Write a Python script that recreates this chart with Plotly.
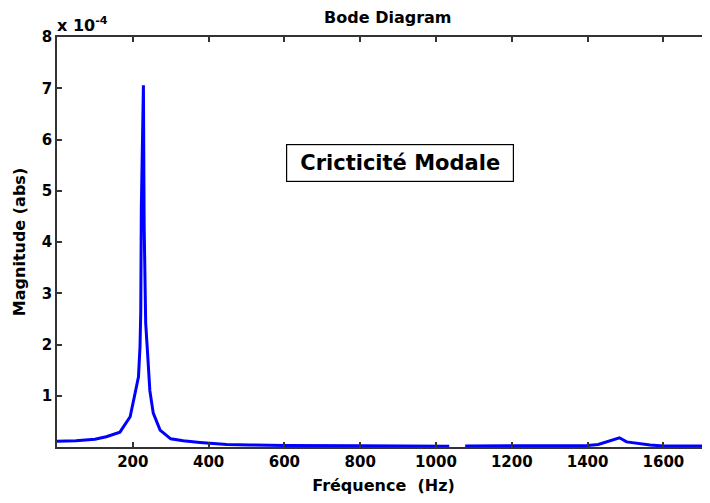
import plotly.graph_objects as go

# Frequency (Hz) and magnitude (in units of 1e-4, abs)
freq_hz = [0, 50, 100, 130, 166, 193, 206, 215, 219, 221, 222.5, 228, 230, 234, 239,
           245, 254, 272, 300, 333, 377, 448, 509, 600, 800, 1000, 1035, None,
           1077, 1200, 1400, 1428, 1459, 1484, 1503, 1530, 1565, 1600, 1725]
magnitude_e4 = [0.11, 0.12, 0.15, 0.2, 0.29, 0.59, 1.05, 1.37, 1.95, 2.64, 4.66, 7.06, 4.3, 2.42, 1.83,
                1.1, 0.66, 0.33, 0.16, 0.12, 0.09, 0.05, 0.04, 0.03, 0.025, 0.02, 0.015, None,
                0.02, 0.02, 0.03, 0.05, 0.12, 0.18, 0.1, 0.07, 0.04, 0.02, 0.02]

x_ticks = [200, 400, 600, 800, 1000, 1200, 1400, 1600]
y_ticks = [1, 2, 3, 4, 5, 6, 7, 8]

FONT = "DejaVu Sans, Verdana, sans-serif"

fig = go.Figure()
fig.add_trace(go.Scatter(x=freq_hz, y=magnitude_e4, mode="lines",
                         line=dict(color="#0000FF", width=3),
                         connectgaps=False, hoverinfo="x+y"))

# the page places the figure 8px from the window's top-left corner
fig.update_layout(
    width=702, height=487,
    margin=dict(l=49, r=0, t=29, b=48, autoexpand=False),
    paper_bgcolor="white", plot_bgcolor="white",
    showlegend=False,
    font=dict(family=FONT, color="black"),
    title=dict(text="<b>Bode Diagram</b>", x=0.541, xanchor="center", y=0.992, yanchor="top",
               font=dict(size=16, family=FONT, color="black")),
)

fig.update_xaxes(
    range=[0, 1723], showgrid=False, zeroline=False, automargin=False,
    showline=True, linecolor="#333333", linewidth=1.5, mirror="ticks",
    ticks="inside", ticklen=5, tickcolor="#333333", tickwidth=1.5,
    tickvals=x_ticks, ticktext=[f"<b>{v}</b>" for v in x_ticks],
    tickfont=dict(size=15, family=FONT, color="black"),
    title=dict(text="<b>Fréquence  (Hz)</b>", font=dict(size=16, family=FONT, color="black"),
               standoff=11),
)
fig.update_yaxes(
    range=[0, 8], showgrid=False, zeroline=False, automargin=False,
    showline=True, linecolor="#333333", linewidth=1.5, mirror=False,
    ticks="inside", ticklen=5, tickcolor="#333333", tickwidth=1.5,
    tickvals=y_ticks, ticktext=[f"<b>{v}</b>" for v in y_ticks],
    tickfont=dict(size=15, family=FONT, color="black"),
    title=dict(text="<b>Magnitude (abs)</b>", font=dict(size=16, family=FONT, color="black"),
               standoff=12),
)

# exponent label
fig.add_annotation(xref="paper", yref="paper", x=0, y=1, xanchor="left", yanchor="bottom",
                   text="<b>x 10<sup>-4</sup></b>", showarrow=False,
                   font=dict(size=16, family=FONT, color="black"), xshift=-2, yshift=0)

# text box
fig.add_annotation(x=905, y=5.54, xref="x", yref="y",
                   text="<b>Cricticité Modale</b>", showarrow=False,
                   font=dict(size=21, family=FONT, color="black"),
                   bordercolor="black", borderwidth=1.2, borderpad=6,
                   bgcolor="white", width=214)

fig.write_html("out.html")
